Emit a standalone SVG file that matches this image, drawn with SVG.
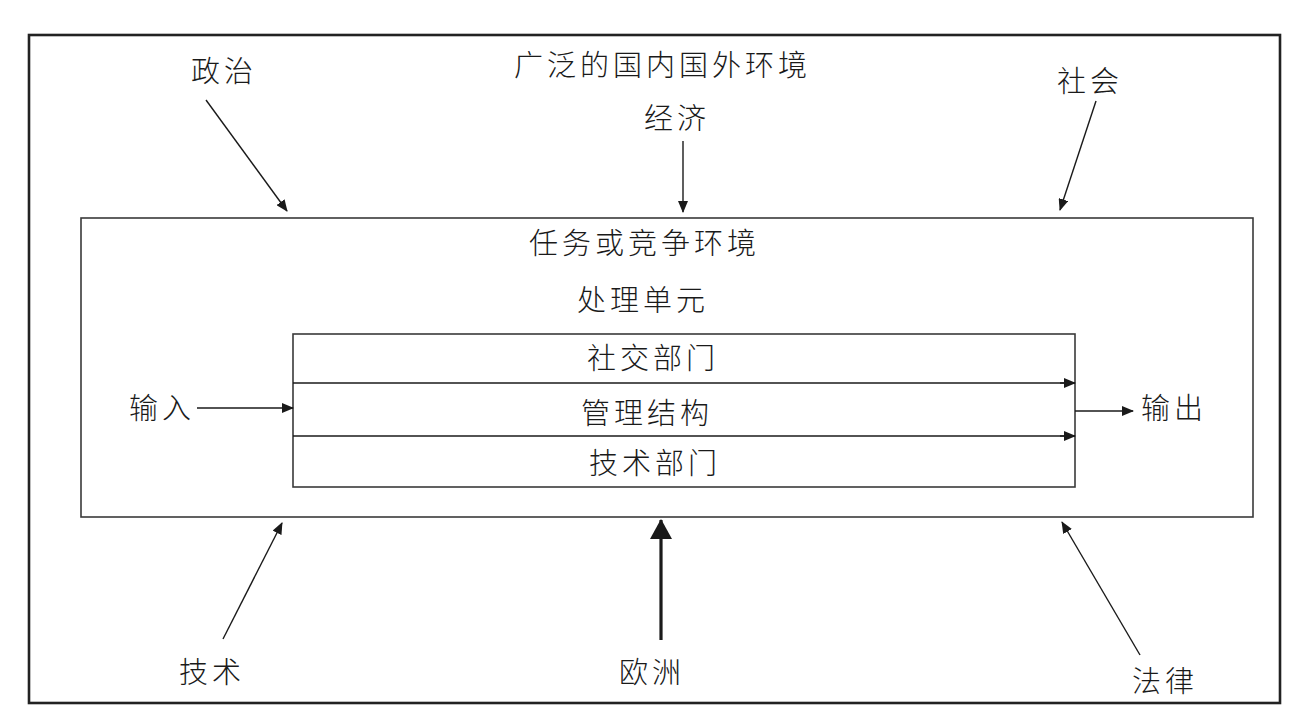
<svg xmlns="http://www.w3.org/2000/svg" width="1313" height="727" viewBox="0 0 1313 727">
<style>
text{font-family:"Noto Sans CJK SC","Noto Sans CJK JP",sans-serif;font-size:29px;font-weight:300;fill:#1a1a1a;letter-spacing:4px}
.box{fill:none;stroke:#3a3a3a;stroke-width:1.6}
.ln{stroke:#1a1a1a;stroke-width:1.4;fill:none}
.thick{stroke:#1a1a1a;stroke-width:3.2;fill:none}
</style>
<defs>
<marker id="ah" markerUnits="userSpaceOnUse" markerWidth="12" markerHeight="10" refX="11" refY="5" orient="auto">
<path d="M0,0 L12,5 L0,10 Z" fill="#1a1a1a"/>
</marker>
<marker id="ahBig" markerUnits="userSpaceOnUse" markerWidth="20" markerHeight="22" refX="19" refY="11" orient="auto">
<path d="M0,0 L20,11 L0,22 Z" fill="#1a1a1a"/>
</marker>
</defs>
<rect width="1313" height="727" fill="#ffffff"/>
<g id="outer-env">
<rect x="29" y="35" width="1251" height="668" fill="none" stroke="#222" stroke-width="2.6"/>
<text x="514" y="76">广泛的国内国外环境</text>
</g>
<g id="task-env">
<rect class="box" x="81" y="218" width="1172" height="299"/>
<text x="529" y="254">任务或竞争环境</text>
<text x="577" y="311">处理单元</text>
</g>
<g id="processing-unit">
<rect class="box" x="293" y="334" width="782" height="153"/>
<line class="ln" x1="293" y1="383" x2="1075" y2="383"/>
<line class="ln" x1="293" y1="436" x2="1075" y2="436"/>
<text x="587" y="369">社交部门</text>
<text x="581" y="424">管理结构</text>
<text x="589" y="474">技术部门</text>
</g>
<g id="n-politics"><text x="191" y="82">政治</text></g>
<g id="n-economy"><text x="644" y="129">经济</text></g>
<g id="n-society"><text x="1057" y="92">社会</text></g>
<g id="n-input"><text x="129" y="419">输入</text></g>
<g id="n-output"><text x="1141" y="419">输出</text></g>
<g id="n-tech"><text x="179" y="683">技术</text></g>
<g id="n-europe"><text x="619" y="683">欧洲</text></g>
<g id="n-law"><text x="1132" y="692">法律</text></g>
<g id="connectors">
<line class="ln" x1="206" y1="100" x2="287" y2="211" marker-end="url(#ah)"/>
<line class="ln" x1="683" y1="141" x2="683" y2="212" marker-end="url(#ah)"/>
<line class="ln" x1="1096" y1="101" x2="1060" y2="210" marker-end="url(#ah)"/>
<line class="ln" x1="197" y1="408" x2="293" y2="408" marker-end="url(#ah)"/>
<line class="ln" x1="1075" y1="411" x2="1133" y2="411" marker-end="url(#ah)"/>
<line class="ln" x1="1060" y1="383" x2="1075" y2="383" marker-end="url(#ah)"/>
<line class="ln" x1="1060" y1="436" x2="1075" y2="436" marker-end="url(#ah)"/>
<line class="ln" x1="223" y1="639" x2="282" y2="523" marker-end="url(#ah)"/>
<line class="thick" x1="661" y1="640" x2="661" y2="520" marker-end="url(#ahBig)"/>
<line class="ln" x1="1140" y1="655" x2="1062" y2="522" marker-end="url(#ah)"/>
</g>
</svg>
